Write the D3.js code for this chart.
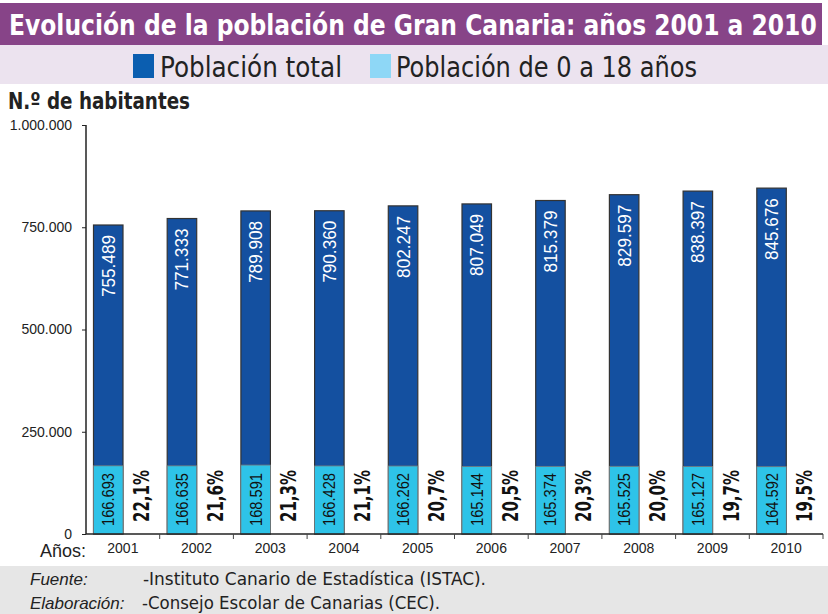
<!DOCTYPE html>
<html>
<head>
<meta charset="utf-8">
<script src="https://cdn.jsdelivr.net/npm/d3@7"></script>
<style>
  body { margin: 0; background: #fff; }
  svg { display: block; }
</style>
</head>
<body>
<div id="chart"></div>
<script>
// datos
var years = ["2001", "2002", "2003", "2004", "2005", "2006", "2007", "2008", "2009", "2010"];
var total = [755489, 771333, 789908, 790360, 802247, 807049, 815379, 829597, 838397, 845676];
var young = [166693, 166635, 168591, 166428, 166262, 165144, 165374, 165525, 165127, 164592];
var pct = ["22,1%", "21,6%", "21,3%", "21,1%", "20,7%", "20,5%", "20,3%", "20,0%", "19,7%", "19,5%"];
var yTicks = [0, 250000, 500000, 750000, 1000000];

var W = 828, H = 614;
var narrow = "'Liberation Sans Narrow', 'DejaVu Sans Condensed', 'Arial Narrow', sans-serif";
var arial = "'Liberation Sans', Arial, sans-serif";

var fmt = function(v) {
	return d3.format(",")(v).replace(/,/g, ".");
};

var svg = d3.select("#chart").append("svg").attr("width", W).attr("height", H);

// cabecera
svg.append("rect").attr("x", 0).attr("y", 3).attr("width", 822).attr("height", 42).attr("fill", "#874488");
svg.append("rect").attr("x", 0).attr("y", 45).attr("width", 828).attr("height", 39).attr("fill", "#ece3ef");
var title = svg.append("text").attr("x", 0).attr("y", 0)
	.style("font-family", narrow).style("font-weight", "bold").style("font-size", "28px")
	.attr("fill", "#fff").text("Evolución de la población de Gran Canaria: años 2001 a 2010");
// encajar el titulo en el ancho de la banda
var tw = title.node().getComputedTextLength();
title.attr("transform", "translate(9,35) scale(" + (808 / tw) + ",1)");

// leyenda
var legend = [
	{ name: "Población total", color: "#0b5eb0", x: 133, tx: 160, len: 182 },
	{ name: "Población de 0 a 18 años", color: "#8ed7f6", x: 370, tx: 396, len: 301 }
];
var lg = svg.selectAll("g.legend").data(legend).enter().append("g").attr("class", "legend");
lg.append("rect").attr("x", function(d) { return d.x; }).attr("y", 54)
	.attr("width", 21).attr("height", 24).attr("fill", function(d) { return d.color; });
lg.append("text").attr("x", function(d) { return d.tx; }).attr("y", 77)
	.attr("textLength", function(d) { return d.len; }).attr("lengthAdjust", "spacingAndGlyphs")
	.style("font-family", narrow).style("font-size", "28px").attr("fill", "#222")
	.text(function(d) { return d.name; });

svg.append("text").attr("x", 8).attr("y", 109)
	.attr("textLength", 182).attr("lengthAdjust", "spacingAndGlyphs")
	.style("font-family", narrow).style("font-weight", "bold").style("font-size", "23px")
	.attr("fill", "#222").text("N.º de habitantes");

// escalas
var x = d3.scaleBand().domain(years).range([86, 823]);
var y = d3.scaleLinear().domain([0, 1000000]).range([534, 125]);
var barOff = 7.5, barW = 29.5;

// barras total
svg.selectAll("rect.total").data(total).enter().append("rect").attr("class", "total")
	.attr("x", function(d, i) { return x(years[i]) + barOff; })
	.attr("y", function(d) { return y(d); })
	.attr("width", barW)
	.attr("height", function(d) { return y(0) - y(d); })
	.attr("fill", "#1450a0").attr("stroke", "#333").attr("stroke-width", 1.2);

svg.selectAll("rect.young").data(young).enter().append("rect").attr("class", "young")
	.attr("x", function(d, i) { return x(years[i]) + barOff; })
	.attr("y", function(d) { return y(d); })
	.attr("width", barW)
	.attr("height", function(d) { return y(0) - y(d); })
	.attr("fill", "#2ec3e8").attr("stroke", "#777").attr("stroke-width", 0.8);

// etiquetas
svg.selectAll("text.tlab").data(total).enter().append("text").attr("class", "tlab")
	.attr("transform", function(d, i) {
		return "translate(" + (x(years[i]) + barOff + barW / 2 + 6.5) + "," + (y(d) + 10) + ") rotate(-90)";
	})
	.attr("text-anchor", "end")
	.attr("textLength", 62).attr("lengthAdjust", "spacingAndGlyphs")
	.style("font-family", arial).style("font-size", "18px").attr("fill", "#fff")
	.text(function(d) { return fmt(d); });

svg.selectAll("text.ylab").data(young).enter().append("text").attr("class", "ylab")
	.attr("transform", function(d, i) {
		return "translate(" + (x(years[i]) + barOff + barW / 2 + 6) + "," + (y(0) - 8) + ") rotate(-90)";
	})
	.attr("text-anchor", "start")
	.attr("textLength", 53).attr("lengthAdjust", "spacingAndGlyphs")
	.style("font-family", arial).style("font-size", "17px").attr("fill", "#111")
	.text(function(d) { return fmt(d); });

svg.selectAll("text.pct").data(pct).enter().append("text").attr("class", "pct")
	.attr("transform", function(d, i) {
		return "translate(" + (x(years[i]) + 63) + "," + (y(0) - 12) + ") rotate(-90)";
	})
	.attr("text-anchor", "start")
	.attr("textLength", 52).attr("lengthAdjust", "spacingAndGlyphs")
	.style("font-family", narrow).style("font-weight", "bold").style("font-size", "22px").attr("fill", "#111")
	.text(function(d) { return d; });

// ejes
var yAxis = svg.append("g").attr("transform", "translate(86,0)")
	.call(d3.axisLeft(y).tickValues(yTicks).tickSize(4).tickPadding(10).tickFormat(fmt));
yAxis.select(".domain").attr("stroke", "#222").attr("stroke-width", 1.5).attr("d", "M0," + y(1000000) + "V" + y(0));
yAxis.selectAll("text").style("font-family", arial).style("font-size", "14px").attr("fill", "#222");
yAxis.selectAll("line").attr("stroke", "#222");

var xAxis = svg.append("g").attr("transform", "translate(0," + y(0) + ")")
	.call(d3.axisBottom(x).tickSize(0).tickPadding(9));
xAxis.select(".domain").attr("stroke", "#222").attr("stroke-width", 1.5).attr("d", "M86,0H823");
xAxis.selectAll("text").style("font-family", arial).style("font-size", "14px").attr("fill", "#222");
xAxis.selectAll("line.sep").data(years).enter().append("line").attr("class", "sep")
	.attr("x1", function(d) { return x(d) + x.bandwidth(); })
	.attr("x2", function(d) { return x(d) + x.bandwidth(); })
	.attr("y1", 0).attr("y2", 5).attr("stroke", "#444");

svg.append("text").attr("x", 40).attr("y", 557)
	.style("font-family", arial).style("font-size", "18px").attr("fill", "#222").text("Años:");

// pie
svg.append("rect").attr("x", 0).attr("y", 566).attr("width", 828).attr("height", 48).attr("fill", "#e6e6e6");
var foot = [
	{ label: "Fuente:", text: "-Instituto Canario de Estadística (ISTAC).", y: 585, tx: 143, len: 343 },
	{ label: "Elaboración:", text: "-Consejo Escolar de Canarias (CEC).", y: 609, tx: 142, len: 298 }
];
var fg = svg.selectAll("g.foot").data(foot).enter().append("g").attr("class", "foot");
fg.append("text").attr("x", 30).attr("y", function(d) { return d.y; })
	.style("font-family", arial).style("font-style", "italic").style("font-size", "17px").attr("fill", "#222")
	.text(function(d) { return d.label; });
fg.append("text").attr("x", function(d) { return d.tx; }).attr("y", function(d) { return d.y; })
	.attr("textLength", function(d) { return d.len; }).attr("lengthAdjust", "spacingAndGlyphs")
	.style("font-family", narrow).style("font-size", "18px").attr("fill", "#222")
	.text(function(d) { return d.text; });
</script>
</body>
</html>
